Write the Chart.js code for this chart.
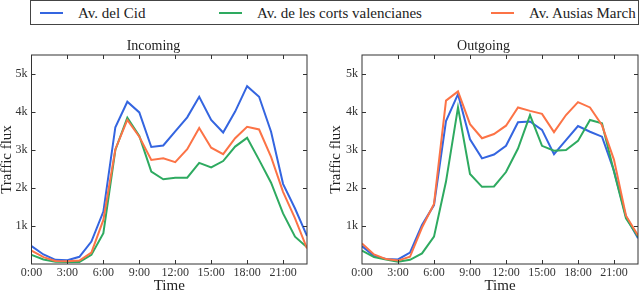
<!DOCTYPE html>
<html>
<head>
<meta charset="utf-8">
<script src="https://cdn.jsdelivr.net/npm/chart.js@4/dist/chart.umd.min.js"></script>
<style>
  html, body { margin:0; padding:0; background:#fff; width:640px; height:291px; overflow:hidden; }
  #wrap { position:relative; width:640px; height:291px; overflow:hidden; font-family:"Liberation Serif", serif; }
  canvas { position:absolute; }
  #legend { position:absolute; left:30px; top:0px; width:607px; height:23px; border:1px solid #444; box-sizing:content-box; }
  .item { position:absolute; top:0; height:23px; line-height:24px; font-size:15px; color:#222; white-space:pre; }
  .sw { position:absolute; top:11px; height:2px; width:23px; }
</style>
</head>
<body>
<div id="wrap">
  <div id="legend"></div>
  <canvas id="cIn" width="320" height="264" style="left:0px;top:30px;"></canvas>
  <canvas id="cOut" width="311" height="264" style="left:329px;top:30px;"></canvas>
</div>
<script>
// ---- data ----
const hours = [0,1,2,3,4,5,6,7,8,9,10,11,12,13,14,15,16,17,18,19,20,21,22,23];
const xTickValues = [0,3,6,9,12,15,18,21];
const yTickValues = [1000,2000,3000,4000,5000];
const seriesNames = ["Av. del Cid", "Av. de les corts valencianes", "Av. Ausias March"];
const seriesColors = ["#3465e0", "#2eaa60", "#fc7346"];
const panelTitles = ["Incoming", "Outgoing"];
const xTitle = "Time";
const yTitle = "Traffic flux";

const inCid    = [470,250,110,100,190,590,1380,3600,4270,3990,3080,3120,3490,3860,4400,3790,3460,4010,4680,4400,3480,2110,1460,740];
const inCorts  = [240,120,60,50,50,240,810,3000,3850,3370,2430,2230,2270,2270,2660,2540,2710,3090,3320,2740,2140,1330,720,440];
const inAusias = [350,180,80,70,90,300,1160,3020,3790,3350,2740,2780,2680,3020,3580,3060,2890,3310,3610,3540,2820,1900,1200,410];

const outCid    = [470,210,130,120,300,1030,1550,3760,4470,3280,2780,2880,3110,3730,3750,3530,2890,3260,3630,3480,3350,2450,1250,680];
const outCorts  = [350,180,120,60,110,280,720,2170,4120,2370,2030,2040,2420,3040,3920,3110,2980,3000,3240,3790,3700,2430,1200,720];
const outAusias = [540,250,130,90,190,960,1580,4300,4540,3680,3310,3420,3640,4120,4030,3950,3470,3920,4260,4120,3650,2740,1270,750];

// ---- legend (HTML text) ----
const legendPos = [{sw:9, tx:47}, {sw:188, tx:226}, {sw:460, tx:498}];
const legendEl = document.getElementById('legend');
seriesNames.forEach((n, i) => {
  const sw = document.createElement('div');
  sw.className = 'sw'; sw.style.left = legendPos[i].sw + 'px'; sw.style.background = seriesColors[i];
  legendEl.appendChild(sw);
  const t = document.createElement('div');
  t.className = 'item'; t.style.left = legendPos[i].tx + 'px'; t.textContent = n;
  legendEl.appendChild(t);
});

Chart.defaults.font.family = '"Liberation Serif", serif';
Chart.defaults.color = '#333';

const frame = {
  id: 'frame',
  afterDraw(chart) {
    const {ctx, chartArea: a, scales: {x, y}} = chart;
    ctx.save();
    ctx.strokeStyle = '#333';
    ctx.lineWidth = 1;
    const L = 4;
    ctx.beginPath();
    x.ticks.forEach(t => {
      if (t.value <= x.min || t.value >= x.max) return;
      const p = Math.round(x.getPixelForValue(t.value)) + 0.5;
      ctx.moveTo(p, a.bottom); ctx.lineTo(p, a.bottom - L);
      ctx.moveTo(p, a.top); ctx.lineTo(p, a.top + L);
    });
    y.ticks.forEach(t => {
      if (t.value <= y.min || t.value >= y.max) return;
      const p = Math.round(y.getPixelForValue(t.value)) + 0.5;
      ctx.moveTo(a.left, p); ctx.lineTo(a.left + L, p);
      ctx.moveTo(a.right, p); ctx.lineTo(a.right - L, p);
    });
    ctx.stroke();
    ctx.strokeRect(a.left, a.top, a.right - a.left, a.bottom - a.top);
    ctx.restore();
  }
};

function makeChart(id, title, series, yWidth, padRight) {
  const datasets = series.map((vals, i) => ({
    label: seriesNames[i],
    data: vals.map((v, k) => ({x: hours[k], y: v})),
    borderColor: seriesColors[i],
    backgroundColor: seriesColors[i],
    borderWidth: 2,
    pointRadius: 0,
    tension: 0,
    fill: false,
    order: 2 - i
  }));
  return new Chart(document.getElementById(id), {
    type: 'line',
    data: { datasets },
    options: {
      responsive: false,
      animation: false,
      layout: { padding: { left: 0, right: padRight, top: 0.2, bottom: 0 } },
      plugins: {
        legend: { display: false },
        tooltip: { enabled: false },
        title: { display: true, text: title, color: '#222',
                 font: { size: 14, weight: 'normal', lineHeight: 1.2 },
                 padding: { top: 8, bottom: 0 } }
      },
      scales: {
        x: {
          type: 'linear', min: 0, max: 23,
          grid: { display: false, drawTicks: false },
          border: { display: false },
          afterBuildTicks(s) { s.ticks = xTickValues.map(v => ({ value: v })); },
          ticks: { padding: 2, maxRotation: 0, autoSkip: false,
                   font: { size: 12 }, callback: v => v + ':00' },
          title: { display: true, text: xTitle, color: '#222',
                   font: { size: 15, lineHeight: 1 }, padding: { top: 0, bottom: 0 } },
          afterFit(s) { s.height = 30; }
        },
        y: {
          type: 'linear', min: 0, max: 5500,
          grid: { display: false, drawTicks: false },
          border: { display: false },
          afterBuildTicks(s) { s.ticks = yTickValues.map(v => ({ value: v })); },
          ticks: { padding: 4, autoSkip: false,
                   font: { size: 12 }, callback: v => (v / 1000) + 'k' },
          title: { display: true, text: yTitle, color: '#222',
                   font: { size: 15, lineHeight: 1 }, padding: { top: 0, bottom: 0 } },
          afterFit(s) { s.width = yWidth; }
        }
      }
    },
    plugins: [frame]
  });
}

makeChart('cIn', panelTitles[0], [inCid, inCorts, inAusias], 31.5, 13);
makeChart('cOut', panelTitles[1], [outCid, outCorts, outAusias], 33, 2);
</script>
</body>
</html>
